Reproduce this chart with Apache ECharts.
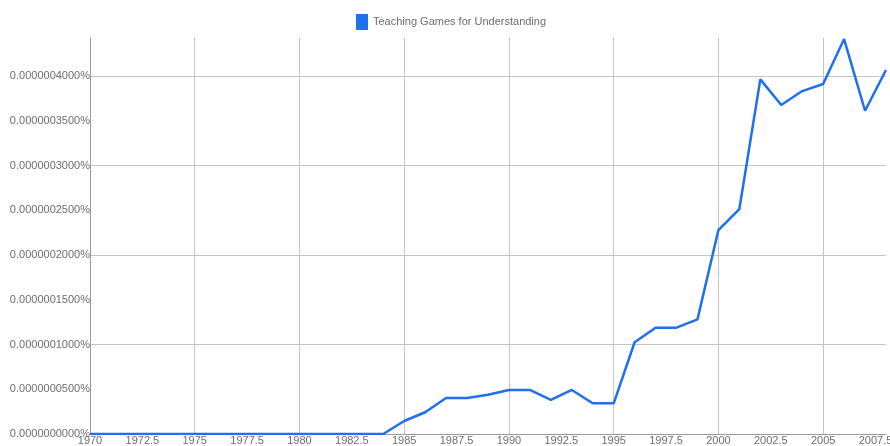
<!DOCTYPE html>
<html>
<head>
<meta charset="utf-8">
<script src="https://cdn.jsdelivr.net/npm/echarts@6/dist/echarts.min.js"></script>
<style>
html,body{margin:0;padding:0;background:#fff;}
#chart{width:890px;height:446px;}
</style>
</head>
<body>
<div id="chart"></div>
<script>
const seriesName = 'Teaching Games for Understanding';
const years = [1970,1971,1972,1973,1974,1975,1976,1977,1978,1979,1980,1981,1982,1983,1984,1985,1986,1987,1988,1989,1990,1991,1992,1993,1994,1995,1996,1997,1998,1999,2000,2001,2002,2003,2004,2005,2006,2007,2008];
// values in percent
const values = [0,0,0,0,0,0,0,0,0,0,0,0,0,0,0,
  0.0000000145,0.0000000243,0.0000000402,0.0000000402,0.0000000439,0.0000000492,0.0000000492,0.0000000380,0.0000000492,0.0000000343,0.0000000343,
  0.0000001025,0.0000001188,0.0000001188,0.0000001281,0.0000002279,0.0000002514,0.0000003963,0.0000003676,0.0000003832,0.0000003911,0.0000004413,0.0000003612,0.0000004067];

const chart = echarts.init(document.getElementById('chart'), null, {renderer:'canvas'});
const labelColor = '#6e6e6e';
const fontFamily = '"Liberation Sans", Arial, sans-serif';
chart.setOption({
  animation: false,
  legend: {
    data: [seriesName],
    top: 9,
    left: 351,
    icon: 'rect',
    itemWidth: 12,
    itemHeight: 16,
    itemGap: 5,
    textStyle: {color: labelColor, fontSize: 11, fontFamily: fontFamily}
  },
  grid: {left: 90, right: 4, top: 38, bottom: 12, containLabel: false, outerBoundsMode: 'none'},
  xAxis: [{
    type: 'value', min: 1970, max: 2008, interval: 2.5,
    axisLine: {show: true, lineStyle: {color: '#999', width: 1}},
    axisTick: {show: false},
    splitLine: {show: false},
    axisLabel: {color: labelColor, fontSize: 11, fontFamily: fontFamily, margin: 1, showMaxLabel: false,
      formatter: v => String(v)}
  }, {
    type: 'value', min: 1970, max: 2008, interval: 5, position: 'bottom',
    axisLine: {show: false}, axisTick: {show: false}, axisLabel: {show: false},
    splitLine: {show: true, showMinLine: false, showMaxLine: false, lineStyle: {color: '#c4c4c4', width: 1}}
  }],
  yAxis: [{
    type: 'value', min: 0, max: 0.0000004425, interval: 0.00000005,
    axisLine: {show: true, lineStyle: {color: '#999', width: 1}},
    axisTick: {show: false},
    splitLine: {show: false},
    axisLabel: {color: labelColor, fontSize: 11, fontFamily: fontFamily, margin: 0, showMaxLabel: false,
      formatter: v => v.toFixed(10) + '%'}
  }, {
    type: 'value', min: 0, max: 0.0000004425, interval: 0.0000001, position: 'left',
    axisLine: {show: false}, axisTick: {show: false}, axisLabel: {show: false},
    splitLine: {show: true, showMinLine: false, showMaxLine: false, lineStyle: {color: '#c4c4c4', width: 1}}
  }],
  series: [{
    name: seriesName,
    type: 'line',
    xAxisIndex: 0, yAxisIndex: 0,
    data: years.map((y, i) => [y, values[i]]),
    showSymbol: false,
    symbol: 'none',
    lineStyle: {color: '#1f6fef', width: 2.5},
    itemStyle: {color: '#1f6fef'},
    z: 5
  }]
});
</script>
</body>
</html>
